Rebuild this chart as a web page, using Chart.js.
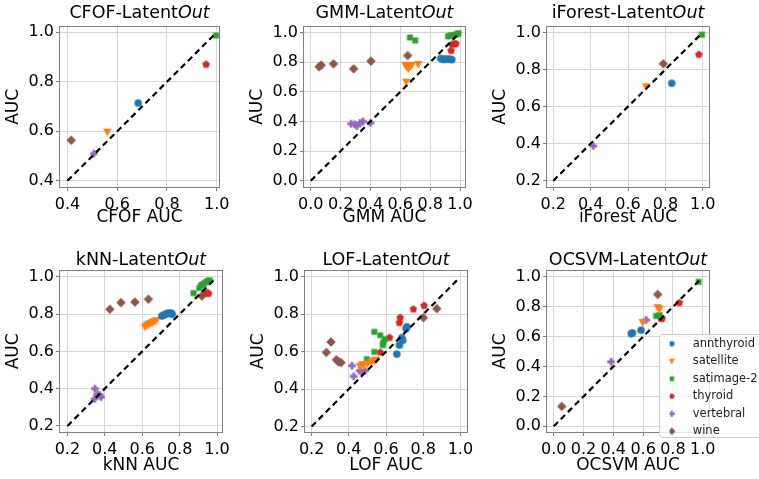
<!DOCTYPE html>
<html>
<head>
<meta charset="utf-8">
<script src="https://cdn.jsdelivr.net/npm/chart.js@4/dist/chart.umd.min.js"></script>
<style>
  body { margin: 0; background: #fff; }
  #wrap { position: relative; width: 759px; height: 479px; overflow: hidden; font-family: 'DejaVu Sans'; }
  #wrap canvas { position: absolute; }
  .ttl { position: absolute; font-size: 17.5px; line-height: 1; color: #000; white-space: nowrap; transform: translate(-50%, -50%); }
</style>
</head>
<body>
<div id="wrap"></div>
<script>
// categories
const methods = ['CFOF', 'GMM', 'iForest', 'kNN', 'LOF', 'OCSVM'];
const datasetNames = ['annthyroid', 'satellite', 'satimage-2', 'thyroid', 'vertebral', 'wine'];

// tick labels
const ticks04 = [0.4, 0.6, 0.8, 1.0];
const ticks02 = [0.2, 0.4, 0.6, 0.8, 1.0];
const ticks00 = [0.0, 0.2, 0.4, 0.6, 0.8, 1.0];

// [baseline AUC, LatentOut AUC] points, one list per dataset (same order as datasetNames)
const cfofPts = [
  [[0.684, 0.714]],
  [[0.56, 0.597]],
  [[0.997, 0.987]],
  [[0.957, 0.87]],
  [[0.506, 0.51]],
  [[0.415, 0.564]]
];
const gmmPts = [
  [[0.87, 0.825], [0.885, 0.82], [0.90, 0.82], [0.915, 0.822], [0.93, 0.82], [0.945, 0.818]],
  [[0.635, 0.78], [0.645, 0.765], [0.655, 0.755], [0.665, 0.77], [0.675, 0.778], [0.72, 0.785], [0.64, 0.665]],
  [[0.664, 0.967], [0.70, 0.947], [0.92, 0.975], [0.935, 0.98], [0.95, 0.98], [0.965, 0.985], [0.98, 0.99], [0.99, 0.995]],
  [[0.946, 0.92], [0.962, 0.922], [0.972, 0.925], [0.94, 0.878]],
  [[0.27, 0.385], [0.295, 0.38], [0.31, 0.37], [0.33, 0.39], [0.35, 0.40], [0.40, 0.39]],
  [[0.056, 0.769], [0.07, 0.78], [0.152, 0.789], [0.287, 0.755], [0.403, 0.807], [0.649, 0.845]]
];
const iforestPts = [
  [[0.834, 0.726]],
  [[0.697, 0.707]],
  [[0.996, 0.988]],
  [[0.979, 0.881]],
  [[0.414, 0.388]],
  [[0.789, 0.831]]
];
const knnPts = [
  [[0.705, 0.79], [0.715, 0.795], [0.725, 0.80], [0.735, 0.805], [0.745, 0.805], [0.755, 0.805], [0.76, 0.80]],
  [[0.615, 0.73], [0.625, 0.74], [0.635, 0.745], [0.645, 0.75], [0.655, 0.755], [0.665, 0.76], [0.675, 0.765]],
  [[0.874, 0.913], [0.905, 0.94], [0.915, 0.955], [0.925, 0.96], [0.935, 0.968], [0.945, 0.975], [0.955, 0.98], [0.962, 0.98]],
  [[0.935, 0.912], [0.948, 0.915], [0.955, 0.91]],
  [[0.347, 0.40], [0.345, 0.345], [0.36, 0.37], [0.373, 0.365], [0.38, 0.355]],
  [[0.427, 0.826], [0.486, 0.862], [0.561, 0.865], [0.633, 0.88], [0.919, 0.897]]
];
const lofPts = [
  [[0.658, 0.587], [0.672, 0.635], [0.685, 0.675], [0.69, 0.66], [0.708, 0.723], [0.712, 0.733]],
  [[0.46, 0.52], [0.47, 0.53], [0.48, 0.53], [0.50, 0.535], [0.52, 0.545], [0.535, 0.55], [0.545, 0.555]],
  [[0.497, 0.56], [0.537, 0.599], [0.537, 0.706], [0.569, 0.688], [0.594, 0.667], [0.585, 0.65], [0.583, 0.635]],
  [[0.569, 0.596], [0.619, 0.675], [0.672, 0.755], [0.676, 0.782], [0.747, 0.827], [0.805, 0.846]],
  [[0.417, 0.525], [0.426, 0.468], [0.458, 0.498], [0.47, 0.49], [0.488, 0.498]],
  [[0.279, 0.596], [0.304, 0.652], [0.333, 0.557], [0.345, 0.545], [0.358, 0.542], [0.801, 0.782], [0.873, 0.83]]
];
const ocsvmPts = [
  [[0.52, 0.62], [0.528, 0.625], [0.586, 0.643]],
  [[0.597, 0.694], [0.698, 0.794], [0.71, 0.785]],
  [[0.687, 0.739], [0.71, 0.745], [0.973, 0.967]],
  [[0.72, 0.72], [0.728, 0.722], [0.843, 0.827]],
  [[0.385, 0.432], [0.62, 0.712]],
  [[0.054, 0.133], [0.698, 0.883]]
];

// reference diagonal y = x, [from, to]
const cfofDiag = [0.4, 0.997];
const gmmDiag = [0.0, 0.99];
const iforestDiag = [0.2, 0.996];
const knnDiag = [0.2, 0.985];
const lofDiag = [0.2, 0.985];
const ocsvmDiag = [0.0, 0.975];

// styles
const colors = ['#1f77b4', '#ff7f0e', '#2ca02c', '#d62728', '#9467bd', '#8c564b'];
const shapes = ['o', 'v', 's', 'p', 'P', 'D'];
const plotSizes = [7.5, 8.5, 7, 8, 7.5, 9.5];
const legendSizes = [5.5, 6.5, 5.5, 6, 6, 7.5];

// panel layout: plot box [left, top, right, bottom] in page pixels
const panels = [
  { pts: cfofPts, diag: cfofDiag, xt: ticks04, yt: ticks04, xr: [0.366, 1.013], yr: [0.371, 1.027], box: [59, 24, 220, 188], row: 0 },
  { pts: gmmPts, diag: gmmDiag, xt: ticks00, yt: ticks00, xr: [-0.052, 1.04], yr: [-0.049, 1.047], box: [303, 24, 466, 188], row: 0 },
  { pts: iforestPts, diag: iforestDiag, xt: ticks02, yt: ticks02, xr: [0.161, 1.039], yr: [0.161, 1.037], box: [546, 24, 710, 188], row: 0 },
  { pts: knnPts, diag: knnDiag, xt: ticks02, yt: ticks02, xr: [0.155, 1.032], yr: [0.162, 1.039], box: [59, 268, 223, 433], row: 1 },
  { pts: lofPts, diag: lofDiag, xt: ticks02, yt: ticks02, xr: [0.159, 1.041], yr: [0.165, 1.039], box: [304, 268, 468, 433], row: 1 },
  { pts: ocsvmPts, diag: ocsvmDiag, xt: ticks00, yt: ticks00, xr: [-0.052, 1.049], yr: [-0.045, 1.049], box: [546, 268, 710, 433], row: 1 }
];
const rows = [{ xlabY: 218, titleY: 13 }, { xlabY: 466, titleY: 260 }];

Chart.defaults.font.family = "'DejaVu Sans'";
Chart.defaults.color = '#000';

// marker image; shift moves the mark left of the image centre (used in the legend)
function marker(shape, color, d, shift = 0) {
  const s = Math.ceil(d) + 2;
  const c = document.createElement('canvas');
  c.width = s + 2 * shift; c.height = s;
  const g = c.getContext('2d');
  const m = s / 2, r = d / 2;
  g.fillStyle = color;
  g.beginPath();
  if (shape === 'o') {
    g.arc(m, m, r, 0, Math.PI * 2);
  } else if (shape === 'v') {
    g.moveTo(m - r, m - r * 0.8); g.lineTo(m + r, m - r * 0.8); g.lineTo(m, m + r);
  } else if (shape === 's') {
    g.rect(m - r * 0.85, m - r * 0.85, r * 1.7, r * 1.7);
  } else if (shape === 'p') {
    for (let i = 0; i < 5; i++) {
      const a = -Math.PI / 2 + i * 2 * Math.PI / 5;
      g.lineTo(m + r * Math.cos(a), m + r * Math.sin(a));
    }
  } else if (shape === 'P') {
    const t = r * 0.38;
    const p = [[-t, -r], [t, -r], [t, -t], [r, -t], [r, t], [t, t], [t, r], [-t, r], [-t, t], [-r, t], [-r, -t], [-t, -t]];
    p.forEach(([x, y]) => g.lineTo(m + x, m + y));
  } else if (shape === 'D') {
    g.moveTo(m, m - r); g.lineTo(m + r, m); g.lineTo(m, m + r); g.lineTo(m - r, m);
  }
  g.closePath();
  g.fill();
  return c;
}

const plotMarks = shapes.map((s, i) => marker(s, colors[i], plotSizes[i]));
const legendMarks = shapes.map((s, i) => marker(s, colors[i], legendSizes[i], 9.5));

// box around the plot area
const frame = {
  id: 'frame',
  beforeDatasetsDraw(chart) {
    const { ctx, chartArea: a } = chart;
    ctx.save();
    ctx.strokeStyle = '#808080';
    ctx.lineWidth = 1;
    ctx.strokeRect(Math.round(a.left) + 0.5, Math.round(a.top) + 0.5, Math.round(a.width) - 1, Math.round(a.height) - 1);
    ctx.restore();
  }
};

const wrap = document.getElementById('wrap');
const yW = 56, padT = 10, padR = 14;

panels.forEach((p, k) => {
  const [L, T, R, B] = p.box;
  const row = rows[p.row];
  const xH = Math.round(row.xlabY + 10.2 - B);
  const cv = document.createElement('canvas');
  cv.width = yW + (R - L) + padR;
  cv.height = padT + (B - T) + xH;
  cv.style.left = (L - yW) + 'px';
  cv.style.top = (T - padT) + 'px';
  wrap.appendChild(cv);

  const ttl = document.createElement('div');
  ttl.className = 'ttl';
  ttl.innerHTML = methods[k] + '-Latent<i>Out</i>';
  ttl.style.left = ((L + R) / 2) + 'px';
  ttl.style.top = row.titleY + 'px';
  wrap.appendChild(ttl);

  const sets = p.pts.map((list, i) => ({
    type: 'scatter',
    label: datasetNames[i],
    data: list.map(([x, y]) => ({ x, y })),
    pointStyle: plotMarks[i],
    pointRadius: 4,
    order: 1
  }));
  sets.push({
    type: 'line',
    label: 'diag',
    data: [{ x: p.diag[0], y: p.diag[0] }, { x: p.diag[1], y: p.diag[1] }],
    borderColor: '#000',
    borderWidth: 2.2,
    borderDash: [6, 4],
    pointRadius: 0,
    fill: false,
    order: -1
  });

  const axis = (title, range, ticks, pad, fit) => ({
    type: 'linear',
    min: range[0],
    max: range[1],
    afterBuildTicks: s => { s.ticks = ticks.map(v => ({ value: v })); },
    afterFit: fit,
    ticks: { autoSkip: false, maxRotation: 0, minRotation: 0, padding: pad, font: { size: 16 }, color: '#000', callback: v => v.toFixed(1) },
    grid: { color: '#d6d6d6', lineWidth: 1, tickColor: '#808080', tickLength: 3 },
    border: { display: false },
    title: { display: true, text: title, font: { size: 17 }, color: '#000', padding: 0 }
  });

  new Chart(cv, {
    type: 'scatter',
    data: { datasets: sets },
    options: {
      responsive: false,
      animation: false,
      events: [],
      layout: { padding: { left: 0, top: padT, right: padR, bottom: 0 } },
      scales: {
        x: axis(methods[k] + ' AUC', p.xr, p.xt, 4, s => { s.height = xH; }),
        y: axis('AUC', p.yr, p.yt, 2, s => { s.width = yW; })
      },
      plugins: { legend: { display: false }, tooltip: { enabled: false } }
    },
    plugins: [frame]
  });
});

// legend drawn by the library, on its own canvas over the last panel
const legL = 652, legT = 332;
const legendBox = {
  id: 'legendBox',
  beforeDraw(chart) {
    const { ctx, width } = chart;
    const bx = 659 - legL + 0.5, by = 334 - legT + 0.5, h = 103;
    ctx.save();
    ctx.fillStyle = 'rgba(255,255,255,0.8)';
    ctx.strokeStyle = '#cccccc';
    ctx.lineWidth = 1;
    ctx.beginPath();
    ctx.roundRect(bx, by, width - bx + 10, h, 3);
    ctx.fill();
    ctx.stroke();
    ctx.restore();
  }
};
const lc = document.createElement('canvas');
lc.width = 260;
lc.height = 118;
lc.style.left = legL + 'px';
lc.style.top = legT + 'px';
wrap.appendChild(lc);
new Chart(lc, {
  type: 'scatter',
  data: { datasets: datasetNames.map((n, i) => ({ label: n, data: [], pointStyle: legendMarks[i] })) },
  options: {
    responsive: false,
    animation: false,
    events: [],
    layout: { padding: { left: 17.5 } },
    scales: { x: { display: false }, y: { display: false } },
    plugins: {
      tooltip: { enabled: false },
      legend: {
        position: 'left',
        align: 'start',
        maxWidth: 200,
        labels: { usePointStyle: true, boxHeight: 11.5, padding: 6, color: '#222', font: { size: 11.5 } }
      }
    }
  },
  plugins: [legendBox]
});
</script>
</body>
</html>
